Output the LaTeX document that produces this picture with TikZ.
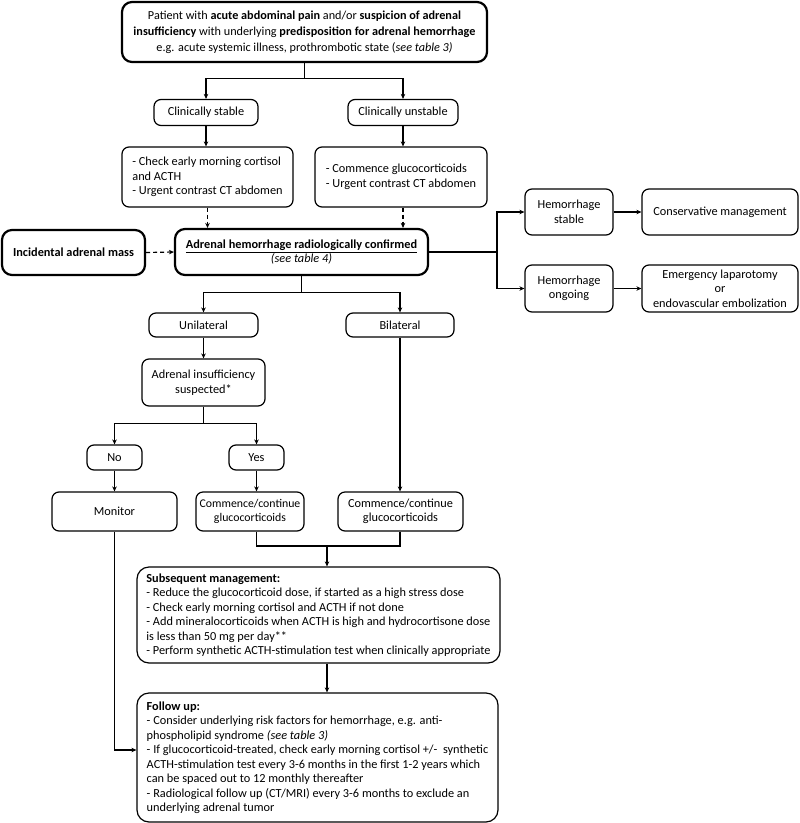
\documentclass[tikz,border=0pt]{standalone}
\usepackage{fontspec}
\setmainfont{Carlito}
\usetikzlibrary{arrows.meta,calc}
\tikzset{
  box/.style={draw, line width=1.2pt, rounded corners=7pt, align=center, inner sep=0pt,
    font=\fontsize{12.3}{14.5}\selectfont},
  bigbox/.style={box, line width=2.2pt, rounded corners=10pt},
  conn/.style={line width=1.2pt},
  arr/.style={conn, -{Stealth[length=5pt,width=4.5pt]}},
  darr/.style={arr, dash pattern=on 4pt off 3pt},
}
\begin{document}
\begin{tikzpicture}[x=1pt,y=-1pt]
\useasboundingbox (0,0) rectangle (800,823);
% nodes
\node[bigbox, minimum width=365, minimum height=60, font=\fontsize{12.2}{16}\selectfont] (top) at (304.5,32)
 {Patient with \textbf{acute abdominal pain} and/or \textbf{suspicion of adrenal}\\
  \textbf{insufficiency} with underlying \textbf{predisposition for adrenal hemorrhage}\\
  e.g. acute systemic illness, prothrombotic state (\textit{see table 3)}};
\node[box, minimum width=104, minimum height=26] (cs) at (206,112.5) {Clinically stable};
\node[box, minimum width=110, minimum height=26] (cu) at (403,112.5) {Clinically unstable};
\node[box, minimum width=171, minimum height=60, align=left] (sc) at (207.5,177)
 {- Check early morning cortisol\\and ACTH\\- Urgent contrast CT abdomen};
\node[box, minimum width=172, minimum height=60, align=left] (uc) at (401,177)
 {- Commence glucocorticoids\\- Urgent contrast CT abdomen};
\node[bigbox, minimum width=143, minimum height=45] (inc) at (73.5,252.5) {\textbf{Incidental adrenal mass}};
\node[bigbox, minimum width=253, minimum height=46] (adr) at (301.5,252)
 {\textbf{\underline{Adrenal hemorrhage radiologically confirmed}}\\\textit{(see table 4)}};
\node[box, minimum width=88, minimum height=46] (hs) at (569,212) {Hemorrhage\\stable};
\node[box, minimum width=156, minimum height=46] (cm) at (720,212) {Conservative management};
\node[box, minimum width=88, minimum height=47] (ho) at (569,288.5) {Hemorrhage\\ongoing};
\node[box, minimum width=156, minimum height=47] (em) at (720,288.5) {Emergency laparotomy\\or\\endovascular embolization};
\node[box, minimum width=109, minimum height=24] (uni) at (203.5,325) {Unilateral};
\node[box, minimum width=108, minimum height=24] (bil) at (400,325) {Bilateral};
\node[box, minimum width=123, minimum height=47] (ai) at (203.5,382.5) {Adrenal insufficiency\\suspected*};
\node[box, minimum width=55, minimum height=25] (no) at (114.5,457.5) {No};
\node[box, minimum width=55, minimum height=25] (yes) at (256.5,457.5) {Yes};
\node[box, minimum width=125, minimum height=39] (mon) at (114.5,511.5) {Monitor};
\node[box, minimum width=108, minimum height=39, font=\fontsize{11.8}{14.5}\selectfont] (cc1) at (250,511.5) {Commence/continue\\glucocorticoids};
\node[box, minimum width=125, minimum height=39] (cc2) at (400.5,511.5) {Commence/continue\\glucocorticoids};
\node[box, rounded corners=12pt, minimum width=363, minimum height=96, align=left] (sub) at (318.5,615)
 {\textbf{Subsequent management:}\\
  - Reduce the glucocorticoid dose, if started as a high stress dose\\
  - Check early morning cortisol and ACTH if not done\\
  - Add mineralocorticoids when ACTH is high and hydrocortisone dose\\
  is less than 50 mg per day**\\
  - Perform synthetic ACTH-stimulation test when clinically appropriate};
\node[box, rounded corners=12pt, minimum width=361, minimum height=129, align=left] (fu) at (317.5,757.5)
 {\textbf{Follow up:}\\
  - Consider underlying risk factors for hemorrhage, e.g. anti-\\
  phospholipid syndrome \textit{(see table 3)}\\
  - If glucocorticoid-treated, check early morning cortisol +/-~ synthetic\\
  ACTH-stimulation test every 3-6 months in the first 1-2 years which\\
  can be spaced out to 12 monthly thereafter\\
  - Radiological follow up (CT/MRI) every 3-6 months to exclude an\\
  underlying adrenal tumor};
% junctions
\coordinate (j1) at ($(top.south)+(0,15)$);
\coordinate (j2) at (497,252);
\coordinate (j3) at ($(adr.south)+(0,16)$);
\coordinate (j4) at ($(ai.south)+(0,17)$);
\coordinate (m) at (327,546);
% connectors
\draw[conn] (top.south) -- (j1);
\draw[arr] (j1) -| (cs.north);
\draw[arr] (j1) -| (cu.north);
\draw[arr] (cs.south) -- (cs.south |- sc.north);
\draw[arr] (cu.south) -- (cu.south |- uc.north);
\draw[darr] (sc.south) -- (sc.south |- adr.north);
\draw[darr] (cu.south |- uc.south) -- (cu.south |- adr.north);
\draw[darr] (inc.east) -- (adr.west);
\draw[conn] (adr.east) -- (j2);
\draw[arr] (j2) |- (hs.west);
\draw[arr] (j2) |- (ho.west);
\draw[arr] (hs.east) -- (cm.west);
\draw[arr] (ho.east) -- (em.west);
\draw[conn] (adr.south) -- (j3);
\draw[arr] (j3) -| (uni.north);
\draw[arr] (j3) -| (bil.north);
\draw[arr] (uni.south) -- (ai.north);
\draw[conn] (ai.south) -- (j4);
\draw[arr] (j4) -| (no.north);
\draw[arr] (j4) -| (yes.north);
\draw[arr] (no.south) -- (mon.north);
\draw[arr] (yes.south) -- (yes.south |- cc1.north);
\draw[arr] (bil.south) -- (bil.south |- cc2.north);
\draw[conn] (yes.south |- cc1.south) |- (m);
\draw[conn] (bil.south |- cc2.south) |- (m);
\draw[arr] (m) -- (m |- sub.north);
\draw[arr] (m |- sub.south) -- (m |- fu.north);
\draw[arr] (mon.south) |- ($(fu.west)+(0,-7.5)$);
\end{tikzpicture}
\end{document}
